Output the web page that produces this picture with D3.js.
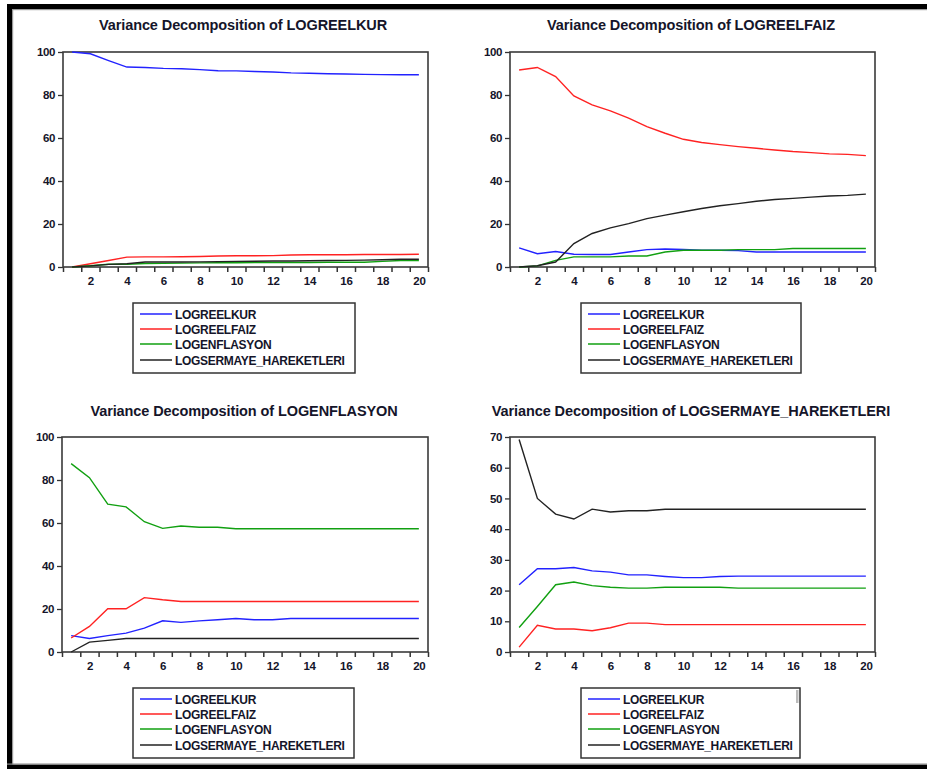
<!DOCTYPE html>
<html><head><meta charset="utf-8">
<script src="https://cdn.jsdelivr.net/npm/d3@7"></script>
<style>
html,body{margin:0;padding:0;background:#fff;}
svg{display:block;font-family:"Liberation Sans",Arial,sans-serif;}
</style></head>
<body>
<svg id="c" width="927" height="769"></svg>
<script>
const periods = d3.range(1, 21);
const seriesNames = ["LOGREELKUR", "LOGREELFAIZ", "LOGENFLASYON", "LOGSERMAYE_HAREKETLERI"];
const seriesColors = ["#2222ff", "#ff2222", "#11a011", "#222222"];
const titles = [
  "Variance Decomposition of LOGREELKUR",
  "Variance Decomposition of LOGREELFAIZ",
  "Variance Decomposition of LOGENFLASYON",
  "Variance Decomposition of LOGSERMAYE_HAREKETLERI"
];
const xTickLabels = [2, 4, 6, 8, 10, 12, 14, 16, 18, 20];
const yTicksA = [0, 20, 40, 60, 80, 100];
const yTicksB = [0, 10, 20, 30, 40, 50, 60, 70];

// Panel 1: Variance Decomposition of LOGREELKUR
const p1_kur   = [100, 99.2, 96.0, 93.0, 92.8, 92.4, 92.2, 91.8, 91.3, 91.2, 90.9, 90.7, 90.3, 90.1, 89.9, 89.8, 89.6, 89.5, 89.4, 89.4];
const p1_faiz  = [0, 1.5, 3.0, 4.6, 4.7, 4.7, 4.8, 4.9, 5.1, 5.2, 5.2, 5.3, 5.6, 5.7, 5.7, 5.7, 5.8, 5.8, 5.8, 5.9];
const p1_enf   = [0, 0.6, 1.3, 1.3, 1.6, 1.7, 1.8, 1.9, 2.0, 2.0, 2.1, 2.1, 2.1, 2.1, 2.2, 2.2, 2.2, 2.6, 3.0, 3.0];
const p1_serm  = [0, 0.5, 1.2, 1.5, 2.3, 2.3, 2.3, 2.4, 2.5, 2.6, 2.7, 2.8, 2.8, 2.9, 3.0, 3.1, 3.2, 3.4, 3.6, 3.6];

// Panel 2: Variance Decomposition of LOGREELFAIZ
const p2_kur   = [8.9, 6.2, 7.2, 5.9, 5.8, 5.8, 7.0, 8.1, 8.4, 8.2, 7.8, 7.8, 7.6, 7.0, 7.0, 7.0, 7.0, 7.0, 7.0, 7.0];
const p2_faiz  = [91.6, 92.8, 88.6, 79.6, 75.4, 72.6, 69.2, 65.3, 62.2, 59.4, 57.9, 56.9, 56.0, 55.2, 54.4, 53.7, 53.2, 52.6, 52.4, 51.8];
const p2_enf   = [0, 0.5, 3.1, 4.7, 4.7, 4.7, 5.1, 5.1, 7.0, 7.8, 7.8, 7.8, 8.1, 8.1, 8.1, 8.6, 8.6, 8.6, 8.6, 8.6];
const p2_serm  = [0, 0.6, 2.3, 10.9, 15.6, 18.2, 20.2, 22.5, 24.1, 25.7, 27.2, 28.5, 29.5, 30.6, 31.4, 31.9, 32.5, 33.0, 33.3, 33.9];

// Panel 3: Variance Decomposition of LOGENFLASYON
const p3_kur   = [7.6, 6.3, 7.6, 8.8, 11.1, 14.5, 13.8, 14.5, 15.0, 15.6, 15.0, 15.0, 15.6, 15.6, 15.6, 15.6, 15.6, 15.6, 15.6, 15.6];
const p3_faiz  = [6.5, 11.9, 20.1, 20.1, 25.3, 24.3, 23.5, 23.5, 23.5, 23.5, 23.5, 23.5, 23.5, 23.5, 23.5, 23.5, 23.5, 23.5, 23.5, 23.5];
const p3_enf   = [87.6, 81.1, 68.8, 67.5, 60.6, 57.5, 58.6, 58.0, 58.0, 57.3, 57.3, 57.3, 57.3, 57.3, 57.3, 57.3, 57.3, 57.3, 57.3, 57.3];
const p3_serm  = [0, 4.6, 5.4, 6.3, 6.3, 6.3, 6.3, 6.3, 6.3, 6.3, 6.3, 6.3, 6.3, 6.3, 6.3, 6.3, 6.3, 6.3, 6.3, 6.3];

// Panel 4: Variance Decomposition of LOGSERMAYE_HAREKETLERI
const p4_kur   = [21.9, 27.1, 27.1, 27.5, 26.4, 26.0, 25.1, 25.1, 24.6, 24.2, 24.2, 24.6, 24.7, 24.7, 24.7, 24.7, 24.7, 24.7, 24.7, 24.7];
const p4_faiz  = [1.6, 8.7, 7.5, 7.5, 6.9, 7.9, 9.4, 9.4, 8.9, 8.9, 8.9, 8.9, 8.9, 8.9, 8.9, 8.9, 8.9, 8.9, 8.9, 8.9];
const p4_enf   = [8.0, 14.8, 21.9, 22.8, 21.6, 21.1, 20.8, 20.8, 21.1, 21.1, 21.1, 21.1, 20.8, 20.8, 20.8, 20.8, 20.8, 20.8, 20.8, 20.8];
const p4_serm  = [69.2, 50.0, 44.9, 43.3, 46.5, 45.6, 46.0, 46.0, 46.5, 46.5, 46.5, 46.5, 46.5, 46.5, 46.5, 46.5, 46.5, 46.5, 46.5, 46.5];

const panels = [
  {title: titles[0], series: [p1_kur, p1_faiz, p1_enf, p1_serm], yMax: 100, yTicks: yTicksA,
   box: {l: 63, r: 428, t: 52, b: 267}, tx: 243, ty: 30, leg: {x: 133, y: 303, w: 222}},
  {title: titles[1], series: [p2_kur, p2_faiz, p2_enf, p2_serm], yMax: 100, yTicks: yTicksA,
   box: {l: 510, r: 875, t: 52, b: 267}, tx: 691, ty: 30, leg: {x: 581, y: 303, w: 220}},
  {title: titles[2], series: [p3_kur, p3_faiz, p3_enf, p3_serm], yMax: 100, yTicks: yTicksA,
   box: {l: 62, r: 428, t: 437, b: 652}, tx: 244, ty: 416, leg: {x: 133, y: 688, w: 221}},
  {title: titles[3], series: [p4_kur, p4_faiz, p4_enf, p4_serm], yMax: 70, yTicks: yTicksB,
   box: {l: 510, r: 875, t: 437, b: 652}, tx: 691, ty: 416, leg: {x: 581, y: 688, w: 219}}
];

const svg = d3.select("#c");
const textColor = "#15152a";

// outer frame
svg.append("rect").attr("x", 7).attr("y", 4).attr("width", 940).attr("height", 5).attr("fill", "#000");
svg.append("rect").attr("x", 7).attr("y", 9).attr("width", 940).attr("height", 1.2).attr("fill", "#999");
svg.append("rect").attr("x", 7).attr("y", 4).attr("width", 5).attr("height", 765).attr("fill", "#000");
svg.append("rect").attr("x", 12).attr("y", 9).attr("width", 1.2).attr("height", 760).attr("fill", "#999");
svg.append("rect").attr("x", 7).attr("y", 764.5).attr("width", 940).attr("height", 5).attr("fill", "#000");
svg.append("rect").attr("x", 7).attr("y", 763.5).attr("width", 940).attr("height", 1.2).attr("fill", "#888");

panels.forEach(p => {
  const g = svg.append("g");
  const x = d3.scaleLinear().domain([0.5, 20.5]).range([p.box.l, p.box.r]);
  const y = d3.scaleLinear().domain([0, p.yMax]).range([p.box.b, p.box.t]);

  // title
  g.append("text").attr("x", p.tx).attr("y", p.ty).attr("text-anchor", "middle")
    .attr("font-size", 14.5).attr("font-weight", "bold").attr("fill", textColor)
    .attr("letter-spacing", -0.1).text(p.title);

  // y axis
  const yAxis = d3.axisLeft(y).tickValues(p.yTicks).tickSize(5).tickPadding(3).tickSizeOuter(0);
  const ya = g.append("g").attr("transform", `translate(${p.box.l},0)`).call(yAxis);
  ya.select(".domain").remove();
  ya.selectAll("line").attr("stroke", "#333").attr("stroke-width", 1.3);
  ya.selectAll("text").attr("font-size", 11.5).attr("font-weight", "bold").attr("fill", textColor)
    .attr("font-family", "Liberation Sans, Arial, sans-serif").attr("letter-spacing", -0.4);

  // x axis: ticks at boundaries, labels at even periods
  const xAxisTicks = d3.axisBottom(x).tickValues(d3.range(0.5, 21, 1)).tickSize(5).tickFormat("").tickSizeOuter(0);
  const xa = g.append("g").attr("transform", `translate(0,${p.box.b})`).call(xAxisTicks);
  xa.select(".domain").remove();
  xa.selectAll("line").attr("stroke", "#333").attr("stroke-width", 1.5);
  const xAxisLabels = d3.axisBottom(x).tickValues(xTickLabels).tickSize(0).tickPadding(10).tickSizeOuter(0);
  const xl = g.append("g").attr("transform", `translate(0,${p.box.b})`).call(xAxisLabels);
  xl.select(".domain").remove();
  xl.selectAll("text").attr("font-size", 11.5).attr("font-weight", "bold").attr("fill", textColor)
    .attr("font-family", "Liberation Sans, Arial, sans-serif").attr("letter-spacing", -0.3);

  // plot box
  g.append("rect").attr("x", p.box.l).attr("y", p.box.t)
    .attr("width", p.box.r - p.box.l).attr("height", p.box.b - p.box.t)
    .attr("fill", "none").attr("stroke", "#3a3a3a").attr("stroke-width", 1.6);

  // lines
  const line = d3.line().x((d, i) => x(periods[i])).y(d => y(d));
  p.series.forEach((s, si) => {
    g.append("path").datum(s).attr("d", line).attr("fill", "none")
      .attr("stroke", seriesColors[si]).attr("stroke-width", 1.4);
  });

  // legend
  const lg = g.append("g").attr("transform", `translate(${p.leg.x},${p.leg.y})`);
  lg.append("rect").attr("x", 0).attr("y", 0).attr("width", p.leg.w).attr("height", 70)
    .attr("fill", "#fff").attr("stroke", "#333").attr("stroke-width", 1.5);
  const rowY = [11, 26, 41, 57];
  seriesNames.forEach((n, i) => {
    lg.append("line").attr("x1", 7).attr("x2", 39).attr("y1", rowY[i]).attr("y2", rowY[i])
      .attr("stroke", seriesColors[i]).attr("stroke-width", 1.5);
    lg.append("text").attr("x", 42).attr("y", rowY[i] + 4.5).attr("font-size", 12)
      .attr("font-weight", "bold").attr("fill", textColor).attr("letter-spacing", -0.3).text(n);
  });
});
// small grey artifact at legend corner (bottom-right)
svg.append("rect").attr("x", 796).attr("y", 690).attr("width", 2.5).attr("height", 13).attr("fill", "#bbb");
</script>
</body></html>
